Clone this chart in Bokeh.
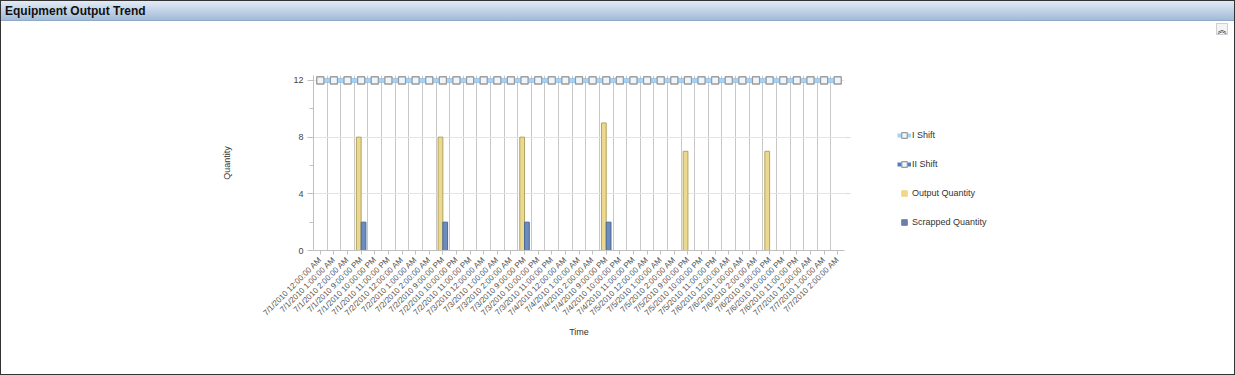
import math
from bokeh.plotting import figure
from bokeh.models import (Range1d, FixedTicker, Legend, LegendItem, Div, LinearAxis)
from bokeh.layouts import column, row
from bokeh.embed import file_html
from bokeh.resources import INLINE

# ---------------- data ----------------
times = [
    "7/1/2010 12:00:00 AM", "7/1/2010 1:00:00 AM", "7/1/2010 2:00:00 AM",
    "7/1/2010 9:00:00 PM", "7/1/2010 10:00:00 PM", "7/1/2010 11:00:00 PM",
    "7/2/2010 12:00:00 AM", "7/2/2010 1:00:00 AM", "7/2/2010 2:00:00 AM",
    "7/2/2010 9:00:00 PM", "7/2/2010 10:00:00 PM", "7/2/2010 11:00:00 PM",
    "7/3/2010 12:00:00 AM", "7/3/2010 1:00:00 AM", "7/3/2010 2:00:00 AM",
    "7/3/2010 9:00:00 PM", "7/3/2010 10:00:00 PM", "7/3/2010 11:00:00 PM",
    "7/4/2010 12:00:00 AM", "7/4/2010 1:00:00 AM", "7/4/2010 2:00:00 AM",
    "7/4/2010 9:00:00 PM", "7/4/2010 10:00:00 PM", "7/4/2010 11:00:00 PM",
    "7/5/2010 12:00:00 AM", "7/5/2010 1:00:00 AM", "7/5/2010 2:00:00 AM",
    "7/5/2010 9:00:00 PM", "7/5/2010 10:00:00 PM", "7/5/2010 11:00:00 PM",
    "7/6/2010 12:00:00 AM", "7/6/2010 1:00:00 AM", "7/6/2010 2:00:00 AM",
    "7/6/2010 9:00:00 PM", "7/6/2010 10:00:00 PM", "7/6/2010 11:00:00 PM",
    "7/7/2010 12:00:00 AM", "7/7/2010 1:00:00 AM", "7/7/2010 2:00:00 AM",
]
i_shift = [12, 12, 12, 12, 12, 12, 12, 12, 12, 12, 12, 12, 12, 12, 12, 12, 12, 12, 12, 12,
           12, 12, 12, 12, 12, 12, 12, 12, 12, 12, 12, 12, 12, 12, 12, 12, 12, 12, 12]
ii_shift = [12, 12, 12, 12, 12, 12, 12, 12, 12, 12, 12, 12, 12, 12, 12, 12, 12, 12, 12, 12,
            12, 12, 12, 12, 12, 12, 12, 12, 12, 12, 12, 12, 12, 12, 12, 12, 12, 12, 12]
output_qty = [0, 0, 0, 8, 0, 0, 0, 0, 0, 8, 0, 0, 0, 0, 0, 8, 0, 0, 0, 0,
              0, 9, 0, 0, 0, 0, 0, 7, 0, 0, 0, 0, 0, 7, 0, 0, 0, 0, 0]
scrapped_qty = [0, 0, 0, 2, 0, 0, 0, 0, 0, 2, 0, 0, 0, 0, 0, 2, 0, 0, 0, 0,
                0, 2, 0, 0, 0, 0, 0, 0, 0, 0, 0, 0, 0, 0, 0, 0, 0, 0, 0]
y_ticks = [0, 4, 8, 12]
legend_labels = ["I Shift", "II Shift", "Output Quantity", "Scrapped Quantity"]

FONT = "Liberation Sans"
n = len(times)
xs = list(range(n))

p = figure(width=859, height=339, output_backend="svg", toolbar_location=None,
           x_range=Range1d(-0.5, n - 0.5), y_range=Range1d(0, 12.35),
           min_border_left=312, min_border_right=16, min_border_top=40, min_border_bottom=124,
           background_fill_color="white", border_fill_color="white", outline_line_color=None)

# grids
p.xgrid.ticker = FixedTicker(ticks=[k - 0.5 for k in range(n + 1)])
p.xgrid.grid_line_color = "#c8c8c8"
p.ygrid.ticker = FixedTicker(ticks=y_ticks)
p.ygrid.grid_line_color = "#e4e4e4"

# x axis
xa = p.xaxis[0]
xa.ticker = FixedTicker(ticks=xs)
xa.major_label_overrides = {i: t for i, t in enumerate(times)}
xa.major_label_orientation = math.pi / 4
xa.major_label_text_font = FONT
xa.major_label_text_font_size = "8px"
xa.major_label_text_color = "#555555"
xa.major_label_standoff = 4
xa.axis_line_color = "#c0c0c0"
xa.major_tick_line_color = "#c0c0c0"
xa.major_tick_out = 4
xa.major_tick_in = 0
xa.minor_tick_line_color = None
xa.axis_label = "Time"
xa.axis_label_text_font = FONT
xa.axis_label_text_font_size = "9px"
xa.axis_label_text_font_style = "normal"
xa.axis_label_text_color = "#333333"
xa.axis_label_standoff = 3

# y axis
ya = p.yaxis[0]
ya.ticker = FixedTicker(ticks=y_ticks, minor_ticks=[2, 6, 10])
ya.major_label_text_font = FONT
ya.major_label_text_font_size = "9px"
ya.major_label_text_color = "#444444"
ya.axis_line_color = "#c0c0c0"
ya.major_tick_line_color = "#c0c0c0"
ya.minor_tick_line_color = "#c0c0c0"
ya.major_tick_out = 6
ya.major_tick_in = 0
ya.minor_tick_out = 4
ya.minor_tick_in = 0
ya.major_label_standoff = 4
ya.axis_label = "Quantity"
ya.axis_label_text_font = FONT
ya.axis_label_text_font_size = "9px"
ya.axis_label_text_font_style = "normal"
ya.axis_label_text_color = "#333333"
ya.axis_label_standoff = 58

# right-side tick stubs (grid extensions)
ra = LinearAxis(ticker=FixedTicker(ticks=[4, 8]), axis_line_color=None,
                major_tick_line_color="#dddddd", major_tick_out=6, major_tick_in=0,
                minor_tick_line_color=None, major_label_text_alpha=0,
                major_label_text_font_size="1px", major_label_standoff=0)
p.add_layout(ra, "right")

# bars
bw = 0.35
ox = [x - bw / 2 for x, v in zip(xs, output_qty) if v > 0]
oy = [v for v in output_qty if v > 0]
sx = [x + bw / 2 for x, v in zip(xs, scrapped_qty) if v > 0]
sy = [v for v in scrapped_qty if v > 0]
p.vbar(x=ox, top=oy, bottom=0, width=bw, fill_color="#ead98f", line_color="#b3a35f", line_width=1)
p.vbar(x=sx, top=sy, bottom=0, width=bw, fill_color="#6c8cbf", line_color="#4b6897", line_width=1)

# lines
LINE_COLORS = ["#a5d3f6", "#4f7fbd"]
p.line(xs, ii_shift, line_color=LINE_COLORS[1], line_width=4)
p.scatter(xs, ii_shift, marker="square", size=7, line_color="#9a9a9a",
          fill_color="#eef5fb", line_width=1.2)
p.line(xs, i_shift, line_color=LINE_COLORS[0], line_width=4)
p.scatter(xs, i_shift, marker="square", size=7, line_color="#9a9a9a",
          fill_color="#eef5fb", line_width=1.2)

# ---------------- legend panel (separate figure to the right) ----------------
pl = figure(width=374, height=339, output_backend="svg", toolbar_location=None,
            x_range=Range1d(0, 1), y_range=Range1d(0, 1),
            min_border=0, background_fill_color="white", border_fill_color="white",
            outline_line_color=None)
pl.axis.visible = False
pl.grid.visible = False
# swatch proxies (kept off-range; only their legend swatches show)
a1 = pl.line([-2, -1], [-2, -1], line_color=LINE_COLORS[0], line_width=4)
b1 = pl.scatter([-2], [-2], marker="square", size=7, line_color="#9a9a9a",
                fill_color="#eef5fb", line_width=1.2)
a2 = pl.line([-2, -1], [-2, -1], line_color=LINE_COLORS[1], line_width=4)
b2 = pl.scatter([-2], [-2], marker="square", size=7, line_color="#9a9a9a",
                fill_color="#eef5fb", line_width=1.2)
c = pl.scatter([-2], [-2], marker="square", size=6, fill_color="#f0d88a", line_color="#f0d88a")
d = pl.scatter([-2], [-2], marker="square", size=6, fill_color="#6a7fa8", line_color="#6a7fa8")

legend = Legend(items=[
    LegendItem(label=legend_labels[0], renderers=[a1, b1]),
    LegendItem(label=legend_labels[1], renderers=[a2, b2]),
    LegendItem(label=legend_labels[2], renderers=[c]),
    LegendItem(label=legend_labels[3], renderers=[d]),
], location=(37, 18), glyph_width=14, glyph_height=20, label_height=20, spacing=9,
    label_standoff=1, padding=0, margin=0, border_line_color=None,
    background_fill_alpha=0, label_text_font=FONT, label_text_font_size="9px",
    label_text_color="#333333")
pl.add_layout(legend)

header_html = (
    '<div style="width:1233px;height:20px;box-sizing:border-box;'
    'background:linear-gradient(#e2ebf6,#a2bbd8);border-bottom:1px solid #8fa9c6;'
    'font-family:\'Liberation Sans\',Arial,sans-serif;font-weight:bold;font-size:12px;'
    'line-height:20px;padding-left:4px;color:#111;">Equipment Output Trend</div>'
    '<div style="width:1233px;height:14px;box-sizing:border-box;text-align:right;'
    'padding-right:6px;background:#fff;">'
    '<span style="display:inline-block;width:12px;height:12px;margin-top:1px;'
    'border:1px solid #d0d0d0;background:#f4f4f4;font-family:\'Noto Sans CJK SC\';'
    'font-size:9px;line-height:12px;text-align:center;color:#000;">&#xFE3D;</span></div>'
)
title = Div(text=header_html, width=1233, height=34, styles={"margin": "0", "padding": "0"})

layout = column(title, row(p, pl, spacing=0), spacing=0,
                styles={"margin-left": "1px", "margin-top": "1px",
                        "box-shadow": "0 0 0 1px #333333"})

open("out.html", "w").write(file_html(layout, INLINE))
